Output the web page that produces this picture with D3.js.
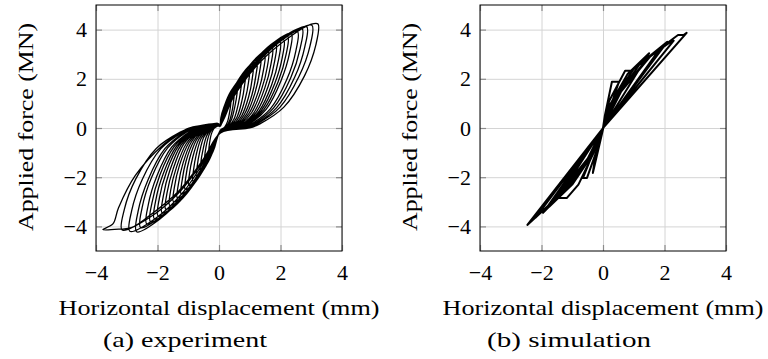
<!DOCTYPE html>
<html>
<head>
<meta charset="utf-8">
<script src="https://cdn.jsdelivr.net/npm/d3@7"></script>
<style>
  body { margin: 0; background: #fff; }
  .lbl { font-family: "Liberation Serif"; }
</style>
</head>
<body>
<svg id="fig" width="768" height="359"></svg>
<script>
const xTicks = [-4, -2, 0, 2, 4];
const yTicks = [-4, -2, 0, 2, 4];
const xDomain = [-4, 4];
const yDomain = [-5, 5];
const xLabel = "Horizontal displacement (mm)";
const yLabel = "Applied force (MN)";
const captions = ["(a) experiment", "(b) simulation"];

// experiment: one path through growing pinched loops (disp mm, force MN)
const expLoops = [
  [[0.05,0.08],[0.06,0.41],[0.16,0.84],[0.29,1.19],[0.4,1.35],[0.39,1.08],[0.35,0.68],[0.28,0.27],[0.19,0.05],[0.15,0],[0.05,-0.08],[-0.05,-0.38],[-0.14,-0.78],[-0.25,-1.1],[-0.35,-1.25],[-0.34,-1.0],[-0.31,-0.63],[-0.25,-0.25],[-0.18,-0.05],[-0.15,0],[-0.05,0.08]],
  [[0.05,0.08],[0.08,0.48],[0.2,0.98],[0.36,1.39],[0.5,1.58],[0.49,1.26],[0.44,0.79],[0.35,0.32],[0.24,0.06],[0.19,0],[0.05,-0.09],[-0.07,-0.46],[-0.19,-0.94],[-0.34,-1.32],[-0.48,-1.5],[-0.47,-1.2],[-0.42,-0.76],[-0.33,-0.3],[-0.23,-0.06],[-0.19,0],[-0.05,0.09]],
  [[0.05,0.08],[0.09,0.54],[0.24,1.12],[0.43,1.58],[0.6,1.8],[0.59,1.44],[0.52,0.9],[0.41,0.36],[0.28,0.07],[0.22,0],[0.05,-0.1],[-0.09,-0.53],[-0.24,-1.09],[-0.43,-1.54],[-0.6,-1.75],[-0.59,-1.4],[-0.52,-0.88],[-0.41,-0.35],[-0.28,-0.07],[-0.22,0],[-0.05,0.1]],
  [[0.05,0.09],[0.11,0.6],[0.29,1.23],[0.52,1.74],[0.73,1.98],[0.71,1.58],[0.63,0.99],[0.5,0.4],[0.33,0.08],[0.26,0],[0.05,-0.1],[-0.11,-0.59],[-0.29,-1.21],[-0.52,-1.72],[-0.73,-1.95],[-0.71,-1.56],[-0.63,-0.98],[-0.5,-0.39],[-0.33,-0.08],[-0.26,0],[-0.05,0.1]],
  [[0.05,0.09],[0.13,0.65],[0.34,1.33],[0.61,1.89],[0.85,2.15],[0.83,1.72],[0.74,1.08],[0.58,0.43],[0.38,0.09],[0.3,0],[0.05,-0.11],[-0.13,-0.65],[-0.34,-1.33],[-0.61,-1.89],[-0.85,-2.15],[-0.83,-1.72],[-0.74,-1.08],[-0.58,-0.43],[-0.38,-0.09],[-0.3,0],[-0.05,0.11]],
  [[0.05,0.1],[0.15,0.7],[0.39,1.44],[0.7,2.05],[0.98,2.33],[0.96,1.86],[0.85,1.17],[0.66,0.47],[0.44,0.1],[0.34,0],[0.05,-0.12],[-0.15,-0.7],[-0.39,-1.44],[-0.7,-2.05],[-0.98,-2.33],[-0.96,-1.86],[-0.85,-1.17],[-0.66,-0.47],[-0.44,-0.1],[-0.34,0],[-0.05,0.12]],
  [[0.05,0.1],[0.17,0.75],[0.44,1.55],[0.79,2.2],[1.1,2.5],[1.08,2.0],[0.96,1.25],[0.74,0.5],[0.49,0.1],[0.38,0],[0.05,-0.12],[-0.17,-0.75],[-0.44,-1.55],[-0.79,-2.2],[-1.1,-2.5],[-1.08,-2.0],[-0.96,-1.25],[-0.74,-0.5],[-0.49,-0.1],[-0.38,0],[-0.05,0.12]],
  [[0.05,0.1],[0.19,0.81],[0.49,1.66],[0.88,2.36],[1.23,2.68],[1.2,2.14],[1.07,1.34],[0.82,0.54],[0.54,0.1],[0.42,0],[0.05,-0.12],[-0.19,-0.81],[-0.49,-1.66],[-0.88,-2.36],[-1.23,-2.68],[-1.2,-2.14],[-1.07,-1.34],[-0.82,-0.54],[-0.54,-0.1],[-0.42,0],[-0.05,0.12]],
  [[0.05,0.1],[0.2,0.86],[0.54,1.77],[0.97,2.51],[1.35,2.85],[1.32,2.28],[1.17,1.43],[0.9,0.57],[0.59,0.11],[0.45,0],[0.05,-0.13],[-0.2,-0.86],[-0.54,-1.77],[-0.97,-2.51],[-1.35,-2.85],[-1.32,-2.28],[-1.17,-1.43],[-0.9,-0.57],[-0.59,-0.11],[-0.45,0],[-0.05,0.13]],
  [[0.05,0.1],[0.22,0.9],[0.59,1.85],[1.06,2.62],[1.48,2.98],[1.45,2.38],[1.28,1.49],[0.98,0.6],[0.64,0.12],[0.49,0],[0.05,-0.14],[-0.22,-0.9],[-0.59,-1.86],[-1.06,-2.64],[-1.48,-3.0],[-1.45,-2.4],[-1.28,-1.5],[-0.98,-0.6],[-0.64,-0.12],[-0.49,0],[-0.05,0.14]],
  [[0.05,0.1],[0.24,0.93],[0.64,1.92],[1.15,2.73],[1.6,3.1],[1.57,2.48],[1.38,1.55],[1.06,0.62],[0.68,0.12],[0.52,0],[0.05,-0.14],[-0.24,-0.95],[-0.64,-1.95],[-1.15,-2.77],[-1.6,-3.15],[-1.57,-2.52],[-1.38,-1.58],[-1.06,-0.63],[-0.68,-0.13],[-0.52,0],[-0.05,0.14]],
  [[0.05,0.11],[0.26,0.98],[0.69,2.02],[1.24,2.86],[1.73,3.25],[1.69,2.6],[1.49,1.63],[1.15,0.65],[0.74,0.13],[0.56,0],[0.05,-0.15],[-0.26,-1.0],[-0.69,-2.05],[-1.24,-2.91],[-1.73,-3.3],[-1.69,-2.64],[-1.49,-1.66],[-1.15,-0.66],[-0.74,-0.14],[-0.56,0],[-0.05,0.15]],
  [[0.05,0.11],[0.28,1.02],[0.74,2.11],[1.33,2.99],[1.85,3.4],[1.81,2.72],[1.6,1.7],[1.23,0.68],[0.79,0.14],[0.6,0],[0.05,-0.15],[-0.28,-1.04],[-0.74,-2.14],[-1.33,-3.04],[-1.85,-3.45],[-1.81,-2.76],[-1.6,-1.73],[-1.23,-0.69],[-0.79,-0.14],[-0.6,0],[-0.05,0.15]],
  [[0.05,0.12],[0.3,1.05],[0.79,2.17],[1.42,3.08],[1.98,3.5],[1.94,2.8],[1.71,1.75],[1.31,0.7],[0.84,0.14],[0.63,0],[0.05,-0.16],[-0.3,-1.08],[-0.79,-2.22],[-1.42,-3.15],[-1.98,-3.58],[-1.94,-2.86],[-1.71,-1.79],[-1.31,-0.72],[-0.84,-0.15],[-0.63,0],[-0.05,0.16]],
  [[0.05,0.12],[0.32,1.08],[0.84,2.23],[1.51,3.17],[2.1,3.6],[2.06,2.88],[1.81,1.8],[1.38,0.72],[0.88,0.14],[0.66,0],[0.05,-0.16],[-0.32,-1.11],[-0.84,-2.29],[-1.51,-3.26],[-2.1,-3.7],[-2.06,-2.96],[-1.81,-1.85],[-1.38,-0.74],[-0.88,-0.15],[-0.66,0],[-0.05,0.16]],
  [[0.05,0.12],[0.34,1.12],[0.89,2.31],[1.6,3.28],[2.23,3.73],[2.18,2.98],[1.92,1.87],[1.46,0.75],[0.93,0.15],[0.69,0],[0.05,-0.16],[-0.34,-1.14],[-0.89,-2.36],[-1.6,-3.35],[-2.23,-3.8],[-2.18,-3.04],[-1.92,-1.9],[-1.46,-0.76],[-0.93,-0.16],[-0.69,0],[-0.05,0.16]],
  [[0.05,0.12],[0.35,1.16],[0.94,2.39],[1.69,3.39],[2.35,3.85],[2.3,3.08],[2.02,1.93],[1.54,0.77],[0.97,0.15],[0.72,0],[0.05,-0.17],[-0.35,-1.17],[-0.94,-2.42],[-1.69,-3.43],[-2.35,-3.9],[-2.3,-3.12],[-2.02,-1.95],[-1.54,-0.78],[-0.97,-0.16],[-0.72,0],[-0.05,0.17]],
  [[0.05,0.13],[0.38,1.18],[1.02,2.43],[1.84,3.45],[2.55,3.92],[2.5,3.14],[2.2,1.96],[1.67,0.78],[1.05,0.16],[0.78,0],[0.05,-0.17],[-0.38,-1.22],[-1.02,-2.51],[-1.84,-3.56],[-2.55,-4.05],[-2.5,-3.24],[-2.2,-2.03],[-1.67,-0.81],[-1.05,-0.16],[-0.78,0],[-0.05,0.17]],
  [[0.05,0.13],[0.41,1.22],[1.08,2.51],[1.94,3.56],[2.7,4.05],[2.64,3.24],[2.33,2.03],[1.77,0.81],[1.12,0.16],[0.84,0],[0.05,-0.18],[-0.4,-1.27],[-1.07,-2.62],[-1.93,-3.71],[-2.68,-4.22],[-2.63,-3.38],[-2.31,-2.11],[-1.76,-0.84],[-1.12,-0.17],[-0.84,0],[-0.05,0.18]],
  [[0.05,0.14],[0.43,1.24],[1.14,2.55],[2.05,3.63],[2.85,4.12],[2.79,3.3],[2.46,2.06],[1.87,0.82],[1.18,0.16],[0.88,0],[0.05,-0.18],[-0.44,-1.26],[-1.16,-2.6],[-2.09,-3.7],[-2.9,-4.2],[-2.84,-3.36],[-2.5,-2.1],[-1.89,-0.84],[-1.18,-0.17],[-0.88,0],[-0.05,0.18]],
  [[0.05,0.14],[0.45,1.25],[1.21,2.59],[2.17,3.68],[3.02,4.18],[2.96,3.34],[2.6,2.09],[1.98,0.84],[1.24,0.17],[0.93,0],[0.05,-0.19],[-0.47,-1.25],[-1.26,-2.57],[-2.27,-3.65],[-3.15,-4.15],[-3.08,-3.32],[-2.71,-2.08],[-2.04,-0.83],[-1.26,-0.17],[-0.93,0],[-0.05,0.19]],
  [[0.05,0.15],[0.48,1.27],[1.29,2.62],[2.32,3.72],[3.0,4.22],[3.22,4.23],[3.15,3.38],[2.78,2.12],[2.11,0.85],[1.33,0.17],[1.0,0],[0.05,-0.2],[-0.5,-1.25],[-1.3,-2.55],[-2.3,-3.6],[-2.85,-4.05],[-3.4,-4.12],[-3.78,-4.13],[-3.45,-3.9],[-3.27,-3.25],[-2.72,-1.93],[-1.83,-0.7],[-1.2,-0.15],[-0.98,0],[-0.05,0.2]]
];

// simulation: piecewise-linear cycles
const simCycles = [
  [[0,0],[0.06,0.5],[0.29,1.88],[0.52,1.88],[0.02,0.05],[-0.12,-0.7],[-0.33,-1.83],[-0.28,-1.4],[0,0]],
  [[0,0],[0.2,1.1],[0.72,2.33],[0.93,2.33],[0,0.02],[-0.2,-0.9],[-0.52,-2.03],[-0.65,-2.03],[0,0]],
  [[0,0],[0.25,1.0],[0.8,2.2],[1.5,3.04],[0,0],[-0.3,-1.0],[-0.8,-2.3],[-1.18,-2.85],[-1.46,-2.85],[0,0]],
  [[0,0],[0.35,1.2],[1.0,2.4],[1.82,3.17],[0,0],[-0.35,-1.1],[-1.0,-2.3],[-1.75,-3.2],[0,0]],
  [[0,0],[0.4,1.2],[1.2,2.6],[2.09,3.5],[0,0],[-0.4,-1.15],[-1.2,-2.5],[-1.95,-3.45],[0,0]],
  [[0,0],[0.45,1.3],[1.5,2.9],[2.2,3.5],[2.3,3.55],[0,0],[-0.45,-1.2],[-1.4,-2.7],[-2.2,-3.65],[0,0]],
  [[0,0],[0.5,1.35],[1.6,3.0],[2.44,3.78],[2.62,3.78],[2.72,3.87],[0,0],[-0.5,-1.25],[-1.6,-2.95],[-2.46,-3.94],[0,0]]
];

const svg = d3.select("#fig");
const plotW = 246, plotH = 246, plotTop = 5;
const fontSize = 22;

const panels = [
  { left: 96, caption: captions[0], loops: expLoops, width: 1.3, curve: d3.curveCatmullRom },
  { left: 480, caption: captions[1], loops: simCycles, width: 2.0, curve: d3.curveLinear }
];

panels.forEach((p, pi) => {
  const x = d3.scaleLinear().domain(xDomain).range([0, plotW]);
  const y = d3.scaleLinear().domain(yDomain).range([plotH, 0]);

  const g = svg.append("g").attr("transform", `translate(${p.left},${plotTop})`);

  // grid
  g.append("g")
    .attr("transform", `translate(0,${plotH})`)
    .call(d3.axisBottom(x).tickValues(xTicks).tickSize(-plotH).tickFormat(""))
    .call(s => s.select(".domain").remove())
    .call(s => s.selectAll("line").attr("stroke", "#d4d4d4").attr("stroke-width", 1));
  g.append("g")
    .call(d3.axisLeft(y).tickValues(yTicks).tickSize(-plotW).tickFormat(""))
    .call(s => s.select(".domain").remove())
    .call(s => s.selectAll("line").attr("stroke", "#d4d4d4").attr("stroke-width", 1));

  // inner tick marks on all four sides
  const tk = 6;
  const tickStyle = s => {
    s.select(".domain").remove();
    s.selectAll("line").attr("stroke", "#8c8c8c").attr("stroke-width", 1.2);
  };
  g.append("g").attr("transform", `translate(0,${plotH})`)
    .call(d3.axisBottom(x).tickValues(xTicks).tickSize(-tk).tickFormat("")).call(tickStyle);
  g.append("g")
    .call(d3.axisTop(x).tickValues(xTicks).tickSize(-tk).tickFormat("")).call(tickStyle);
  g.append("g")
    .call(d3.axisLeft(y).tickValues(yTicks).tickSize(-tk).tickFormat("")).call(tickStyle);
  g.append("g").attr("transform", `translate(${plotW},0)`)
    .call(d3.axisRight(y).tickValues(yTicks).tickSize(-tk).tickFormat("")).call(tickStyle);

  // data
  const clipId = "clip" + pi;
  g.append("clipPath").attr("id", clipId)
    .append("rect").attr("width", plotW).attr("height", plotH);
  const line = d3.line().x(d => x(d[0])).y(d => y(d[1])).curve(p.curve);
  g.append("path")
    .datum(p.loops.flat())
    .attr("clip-path", `url(#${clipId})`)
    .attr("fill", "none")
    .attr("stroke", "#000")
    .attr("stroke-width", p.width)
    .attr("stroke-linejoin", "round")
    .attr("d", line);

  // frame
  g.append("rect").attr("width", plotW).attr("height", plotH)
    .attr("fill", "none").attr("stroke", "#000").attr("stroke-width", 1);

  // tick labels
  const labelStyle = s => {
    s.attr("font-family", "Liberation Serif").attr("font-size", fontSize);
    s.select(".domain").remove();
    s.selectAll("text").attr("class", "lbl").attr("fill", "#000");
  };
  g.append("g").attr("transform", `translate(0,${plotH})`)
    .call(d3.axisBottom(x).tickValues(xTicks).tickSize(0).tickPadding(13))
    .call(labelStyle);
  g.append("g")
    .call(d3.axisLeft(y).tickValues(yTicks).tickSize(0).tickPadding(9))
    .call(labelStyle);

  // axis labels
  g.append("text")
    .attr("class", "lbl")
    .attr("x", plotW / 2).attr("y", 310)
    .attr("text-anchor", "middle")
    .attr("font-family", "Liberation Serif").attr("font-size", fontSize)
    .attr("textLength", 321).attr("lengthAdjust", "spacingAndGlyphs")
    .text(xLabel);
  g.append("text")
    .attr("class", "lbl")
    .attr("transform", `translate(${-63},${plotH / 2 - 1}) rotate(-90)`)
    .attr("text-anchor", "middle")
    .attr("font-family", "Liberation Serif").attr("font-size", fontSize)
    .attr("textLength", 208).attr("lengthAdjust", "spacingAndGlyphs")
    .text(yLabel);

  // caption
  g.append("text")
    .attr("class", "lbl")
    .attr("x", 89).attr("y", 342)
    .attr("text-anchor", "middle")
    .attr("font-family", "Liberation Serif").attr("font-size", fontSize)
    .attr("textLength", 164).attr("lengthAdjust", "spacingAndGlyphs")
    .text(p.caption);
});
</script>
</body>
</html>
